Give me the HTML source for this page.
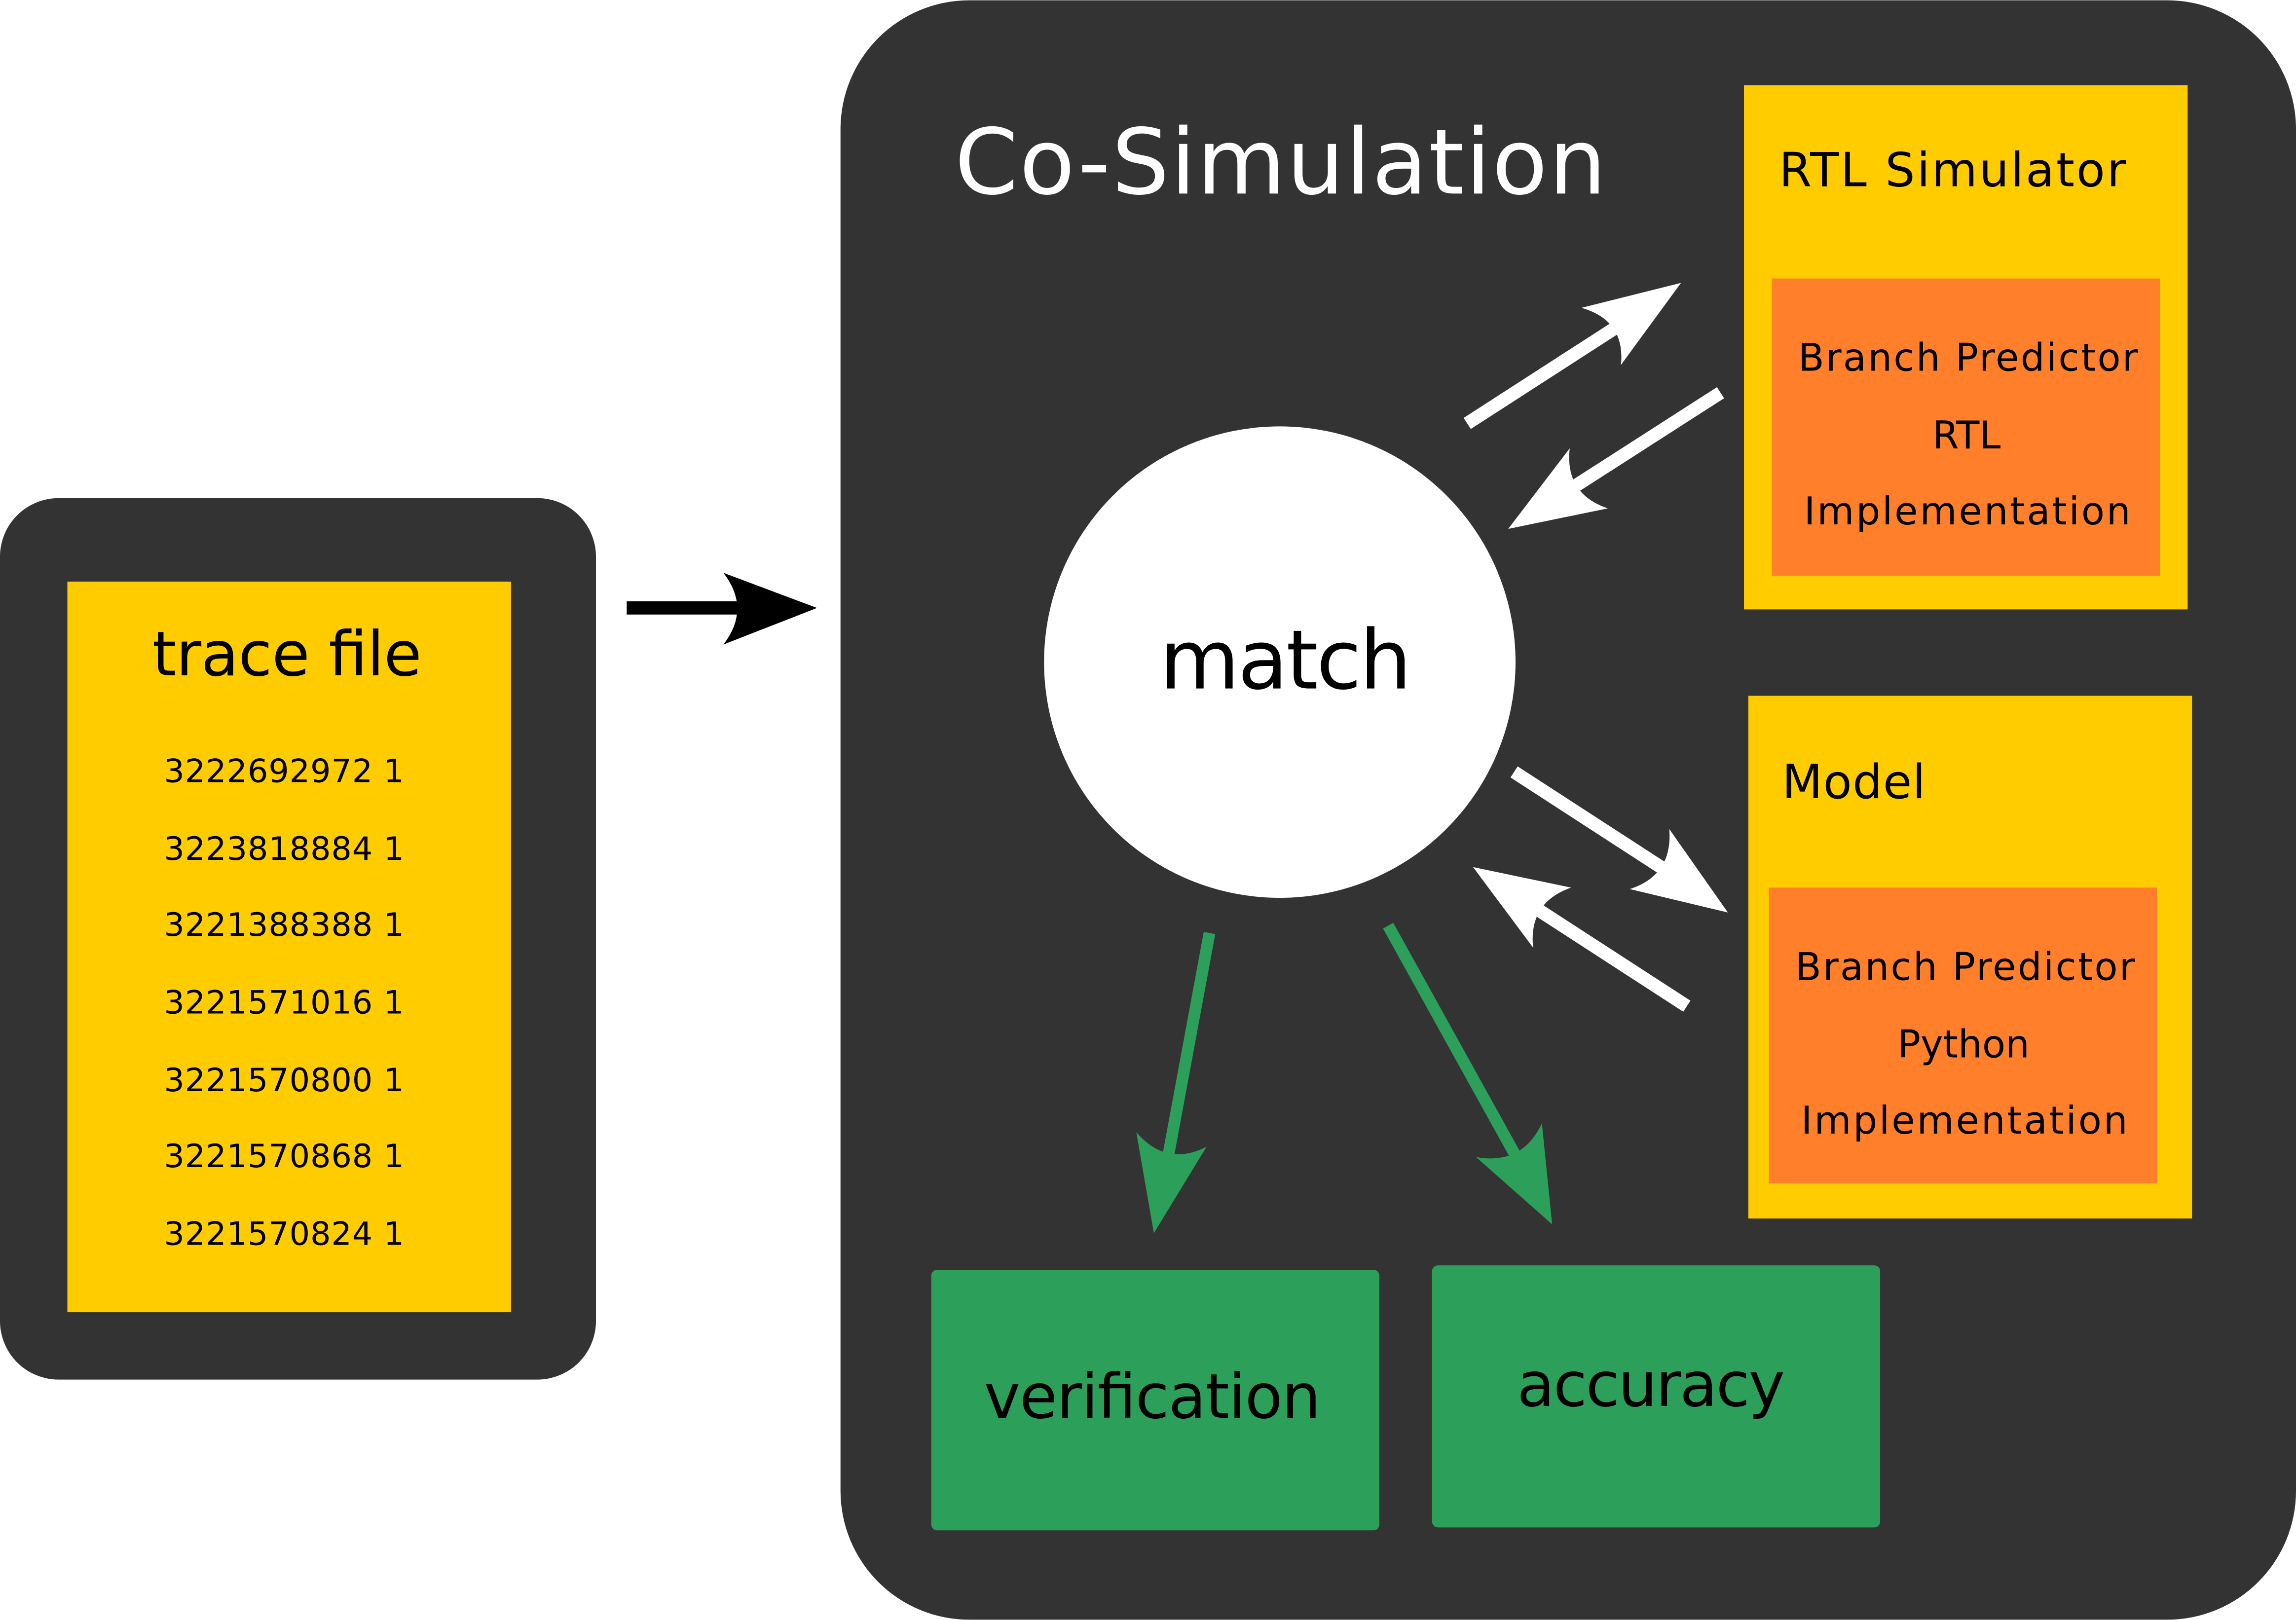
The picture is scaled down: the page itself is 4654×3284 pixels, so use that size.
<!DOCTYPE html>
<html><head><meta charset="utf-8"><style>
html,body{margin:0;padding:0;background:#fff;}
svg{display:block;}
text{font-family:"DejaVu Sans","Liberation Sans",sans-serif;}
</style></head><body>
<svg width="4654" height="3284" viewBox="0 0 1568 1106" xmlns="http://www.w3.org/2000/svg">
<rect x="0" y="340" width="407" height="602" rx="40" fill="#333333"/>
<rect x="46" y="397" width="303" height="499" fill="#ffcc00"/>
<text x="104" y="461" font-size="42" textLength="184" lengthAdjust="spacing" fill="#000">trace file</text>
<g font-size="22" fill="#000">
<text x="112" y="534" textLength="164" lengthAdjust="spacing">3222692972 1</text>
<text x="112" y="587" textLength="164" lengthAdjust="spacing">3223818884 1</text>
<text x="112" y="639" textLength="164" lengthAdjust="spacing">3221388388 1</text>
<text x="112" y="692" textLength="164" lengthAdjust="spacing">3221571016 1</text>
<text x="112" y="745" textLength="164" lengthAdjust="spacing">3221570800 1</text>
<text x="112" y="797" textLength="164" lengthAdjust="spacing">3221570868 1</text>
<text x="112" y="850" textLength="164" lengthAdjust="spacing">3221570824 1</text>
</g>
<line x1="428" y1="415" x2="510" y2="415" stroke="#000" stroke-width="9"/>
<path d="M494 391 L558 415 L494 440 Q513 415.5 494 391 Z" fill="#000"/>
<rect x="574" y="0" width="994" height="1106" rx="88" fill="#333333"/>
<text x="652" y="132" font-size="62" textLength="445" lengthAdjust="spacing" fill="#fff">Co-Simulation</text>
<rect x="1191" y="58" width="303" height="358" fill="#ffcc00"/>
<text x="1215" y="127" font-size="32" textLength="237" lengthAdjust="spacing" fill="#000">RTL Simulator</text>
<rect x="1210" y="190" width="265" height="203" fill="#ff7f2a"/>
<g font-size="26" fill="#000">
<text x="1228" y="253" textLength="232" lengthAdjust="spacing">Branch Predictor</text>
<text x="1343" y="306" text-anchor="middle">RTL</text>
<text x="1232" y="358" textLength="223" lengthAdjust="spacing">Implementation</text>
</g>
<rect x="1194" y="475" width="303" height="357" fill="#ffcc00"/>
<text x="1217" y="545" font-size="32" textLength="98" lengthAdjust="spacing" fill="#000">Model</text>
<rect x="1208" y="606" width="265" height="202" fill="#ff7f2a"/>
<g font-size="26" fill="#000">
<text x="1226" y="669" textLength="232" lengthAdjust="spacing">Branch Predictor</text>
<text x="1341" y="722" text-anchor="middle">Python</text>
<text x="1230" y="774" textLength="223" lengthAdjust="spacing">Implementation</text>
</g>
<circle cx="874" cy="452" r="161" fill="#fff"/>
<text x="792" y="470" font-size="56" textLength="172" lengthAdjust="spacing" fill="#000">match</text>
<rect x="636" y="867" width="306" height="178" rx="4" fill="#2ca05a"/>
<text x="672" y="968" font-size="42" textLength="230" lengthAdjust="spacing" fill="#000">verification</text>
<rect x="978" y="864" width="306" height="179" rx="4" fill="#2ca05a"/>
<text x="1036" y="960" font-size="42" textLength="183" lengthAdjust="spacing" fill="#000">accuracy</text>
<g stroke="#fff" stroke-width="9">
<line x1="1002" y1="289" x2="1112" y2="218"/>
<line x1="1175" y1="268" x2="1066" y2="338"/>
<line x1="1034" y1="527" x2="1145" y2="599"/>
<line x1="1152" y1="687" x2="1041" y2="615"/>
</g>
<g fill="#fff">
<path d="M1080 210 L1148 193 L1107 249 Q1110 218.5 1080 210 Z"/>
<path d="M1098 347 L1030 361 L1072 306 Q1068.5 337 1098 347 Z"/>
<path d="M1113 607 L1180 623 L1140 566 Q1142.5 597.5 1113 607 Z"/>
<path d="M1047 647 L1006 592 L1073 606 Q1043.8 616 1047 647 Z"/>
</g>
<g stroke="#2ca05a" stroke-width="8">
<line x1="826" y1="637" x2="796" y2="799"/>
<line x1="948" y1="632" x2="1040" y2="798"/>
</g>
<g fill="#2ca05a">
<path d="M776 773 L788 842 L824 783 Q796.4 797 776 773 Z"/>
<path d="M1008 790 L1060 836 L1053 767 Q1039.4 795.8 1008 790 Z"/>
</g>
</svg>
</body></html>
